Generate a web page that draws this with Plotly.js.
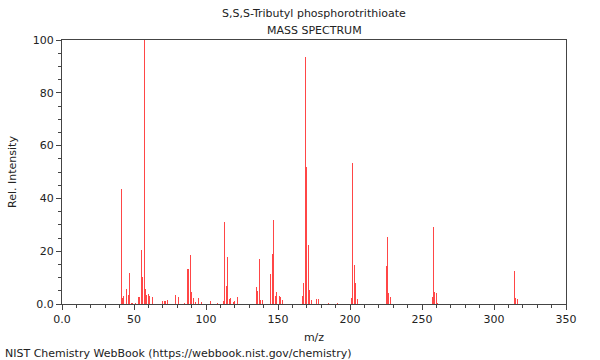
<!DOCTYPE html>
<html>
<head>
<meta charset="utf-8">
<script src="https://cdn.plot.ly/plotly-3.0.1.min.js"></script>
<style>html,body{margin:0;padding:0;background:#fff}#chart{width:600px;height:360px}</style>
</head>
<body>
<div id="chart"></div>
<script>
// m/z values and relative intensities
const mz = [41, 42, 43, 45, 46, 47, 48, 49, 51, 53, 54, 55, 56, 57, 58, 59, 60, 61, 63,
  70, 71, 72, 73, 79, 81, 85, 87, 88, 89, 90, 91, 93, 95, 97, 103, 108,
  112, 113, 114, 115, 116, 117, 119, 120, 122, 135, 136, 137, 138, 139,
  145, 146, 147, 148, 149, 151, 152, 153, 167, 168, 169, 170, 171, 172, 173, 177, 178, 185, 191,
  201, 202, 203, 204, 205, 225, 226, 227, 228, 257, 258, 259, 260, 261, 314, 315, 316];
const intensity = [43.4, 2.4, 3.0, 5.7, 3.3, 11.9, 0.5, 0.5, 0.5, 2.6, 2.6, 20.3, 10.1, 100, 5.6, 3.4, 3.9, 3.2, 2.5,
  1.0, 1.3, 1.3, 1.4, 3.3, 2.5, 0.5, 13.3, 13.3, 18.4, 4.4, 2.3, 0.9, 2.1, 0.7, 1.3, 0.3,
  1.0, 31.0, 6.8, 17.8, 1.8, 2.3, 0.8, 1.1, 2.8, 6.6, 5.1, 16.9, 1.5, 1.5,
  11.2, 19.0, 31.8, 3.2, 4.7, 3.2, 2.8, 1.5, 3.0, 8.0, 93.7, 52.0, 22.3, 5.3, 1.5, 1.8, 1.8, 0.3, 0.5,
  2.3, 53.5, 14.9, 8.0, 2.0, 14.4, 25.4, 4.3, 2.8, 2.5, 29.0, 4.4, 4.2, 0.5, 12.6, 2.3, 2.0];
const xTicks = [0, 50, 100, 150, 200, 250, 300, 350];
const xTickText = ['0.0', '50', '100', '150', '200', '250', '300', '350'];
const yTicks = [0, 20, 40, 60, 80, 100];
const yTickText = ['0.0', '20', '40', '60', '80', '100'];

const font = {family: 'DejaVu Sans, sans-serif', size: 11, color: '#222'};

Plotly.newPlot('chart', [{
  type: 'bar',
  x: mz,
  y: intensity,
  width: 0.7,
  marker: {color: '#ff4646', line: {width: 0}},
  hoverinfo: 'x+y'
}], {
  width: 600, height: 360,
  margin: {l: 62, r: 34, t: 40, b: 56, pad: 0},
  paper_bgcolor: '#fff', plot_bgcolor: '#fff',
  font: font,
  showlegend: false,
  bargap: 0,
  xaxis: {
    range: [0, 350], tickvals: xTicks, ticktext: xTickText,
    showgrid: false, zeroline: false, showline: true, mirror: true,
    linecolor: '#444', linewidth: 1,
    ticks: 'outside', ticklen: 5, tickcolor: '#444',
    minor: {dtick: 10, ticks: 'outside', ticklen: 3, tickcolor: '#444', showgrid: false},
    tickfont: {family: 'DejaVu Sans, sans-serif', size: 11, color: '#222'},
    title: {text: 'm/z', font: {family: 'DejaVu Sans, sans-serif', size: 11, color: '#222'}, standoff: 8}
  },
  yaxis: {
    range: [0, 100], tickvals: yTicks, ticktext: yTickText,
    showgrid: false, zeroline: false, showline: true, mirror: true,
    linecolor: '#444', linewidth: 1,
    ticks: 'outside', ticklen: 5, tickcolor: '#444',
    minor: {dtick: 5, ticks: 'outside', ticklen: 3, tickcolor: '#444', showgrid: false},
    tickfont: {family: 'DejaVu Sans, sans-serif', size: 11, color: '#222'},
    title: {text: 'Rel. Intensity', font: {family: 'DejaVu Sans, sans-serif', size: 11, color: '#222'}, standoff: 13}
  },
  annotations: [
    {text: 'S,S,S-Tributyl phosphorotrithioate', xref: 'paper', yref: 'paper', x: 0.5, y: 1, yshift: 27,
     showarrow: false, xanchor: 'center', yanchor: 'middle', font: font},
    {text: 'MASS SPECTRUM', xref: 'paper', yref: 'paper', x: 0.5, y: 1, yshift: 10,
     showarrow: false, xanchor: 'center', yanchor: 'middle', font: font},
    {text: 'NIST Chemistry WebBook (https://webbook.nist.gov/chemistry)', xref: 'paper', yref: 'paper',
     x: 0, xshift: -59, y: 0, yshift: -49, showarrow: false, xanchor: 'left', yanchor: 'middle', font: font}
  ]
}, {staticPlot: true});
</script>
</body>
</html>
